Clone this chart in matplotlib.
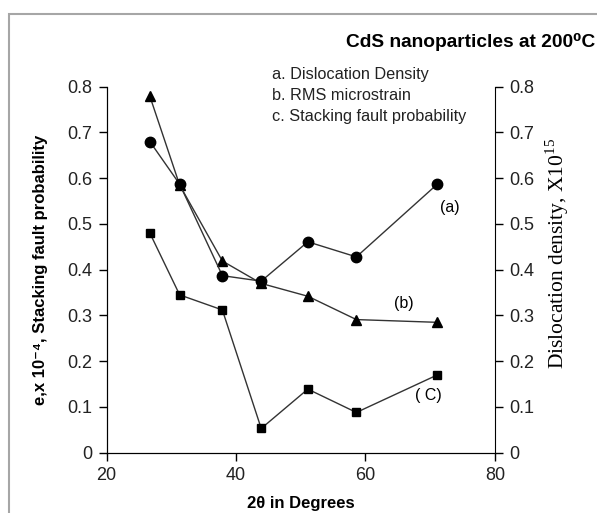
import matplotlib.pyplot as plt
from matplotlib.patches import Rectangle

plt.rcParams['font.family'] = ['Liberation Sans', 'DejaVu Sans']
plt.rcParams['mathtext.fontset'] = 'custom'
plt.rcParams['mathtext.rm'] = 'Liberation Serif'

two_theta = [26.7, 31.3, 37.9, 43.9, 51.1, 58.6, 71.1]
dislocation = [0.680, 0.587, 0.387, 0.375, 0.461, 0.428, 0.587]   # (a)
microstrain = [0.779, 0.585, 0.419, 0.370, 0.342, 0.291, 0.285]   # (b)
stacking = [0.480, 0.345, 0.312, 0.053, 0.139, 0.088, 0.170]      # (c)
legend_lines = ['a. Dislocation Density', 'b. RMS microstrain',
                'c. Stacking fault probability']

fig = plt.figure(figsize=(5.97, 5.13), dpi=100)
ax = fig.add_axes([0.1784, 0.1175, 0.6506, 0.7135])
ax2 = ax.twinx()

line_kw = dict(color='#333333', lw=1.0, markerfacecolor='black', markeredgecolor='black')
ax.plot(two_theta, microstrain, marker='^', ms=7, **line_kw)
ax.plot(two_theta, stacking, marker='s', ms=6, **line_kw)
ax2.plot(two_theta, dislocation, marker='o', ms=7.5, **line_kw)

for a in (ax, ax2):
    a.set_xlim(20, 80)
    a.set_ylim(0, 0.8)
    a.set_yticks([0, 0.1, 0.2, 0.3, 0.4, 0.5, 0.6, 0.7, 0.8])
    a.set_yticklabels(['0', '0.1', '0.2', '0.3', '0.4', '0.5', '0.6', '0.7', '0.8'])
    a.spines['top'].set_visible(False)
    a.tick_params(direction='out', length=6, width=1, labelsize=13,
                  labelcolor='#222222', pad=4)
ax.set_xticks([20, 40, 60, 80])
ax.spines['right'].set_visible(False)

ax.set_xlabel('2θ in Degrees', fontsize=12, fontweight='bold')
ax.xaxis.set_label_coords(0.5, -0.118)
ax.set_ylabel('e,x 10⁻⁴, Stacking fault probability', fontsize=12,
              fontweight='bold')
ax.yaxis.set_label_coords(-0.15, 0.5)
ax2.set_ylabel('Dislocation density, X10$^{15}$', fontsize=15.5,
               family=['Liberation Serif', 'DejaVu Serif'])
ax2.yaxis.set_label_coords(1.125, 0.545)

fig.text(595 / 597, 1 - 42 / 513, 'CdS nanoparticles at 200⁰C', ha='right',
         va='center', fontsize=13.8, fontweight='bold')
for i, s in enumerate(legend_lines):
    fig.text(272 / 597, 1 - (75 + 21 * i) / 513, s, ha='left', va='center',
             fontsize=11.7, color='#222222')

ax.text(73.0, 0.535, '(a)', ha='center', va='center', fontsize=11.5)
ax.text(65.9, 0.327, '(b)', ha='center', va='center', fontsize=11.5)
ax.text(69.7, 0.124, '( C)', ha='center', va='center', fontsize=11.5)

fig.patches.append(Rectangle((8.5 / 597, -0.1), 1.2, 1 - 14 / 513 + 0.1,
                             transform=fig.transFigure, fill=False,
                             edgecolor='#a6a6a6', lw=1.5))

fig.savefig('out.png', dpi=100)
